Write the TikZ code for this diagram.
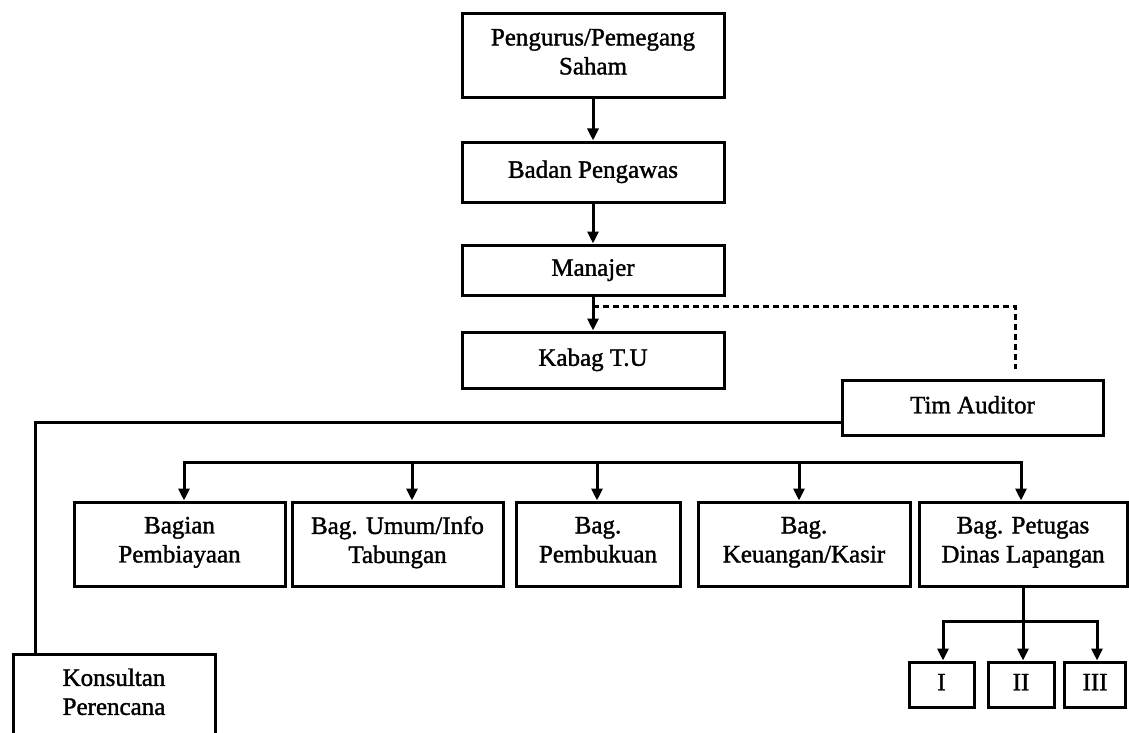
\documentclass[tikz,border=0pt]{standalone}
\usepackage{fontspec}
\setmainfont[FakeBold=1.4]{Liberation Serif}
\usetikzlibrary{arrows.meta}
\newcommand\orgtightls{\lineskiplimit=-100pt\relax}
\begin{document}
\begin{tikzpicture}[x=1pt,y=-1pt,
  box/.style={draw, line width=3pt, align=center, inner sep=0pt,
              font=\fontsize{25}{29}\selectfont,
              execute at begin node={\orgtightls\strut}, execute at end node={\strut}},
  conn/.style={line width=3pt},
  busline/.style={line width=3pt, line cap=rect},
  arr/.style={line width=3pt, -{Triangle[width=11pt,length=12pt]}},
  dotline/.style={line width=3pt, dash pattern=on 6pt off 4pt}]
\useasboundingbox[fill=white] (0,0) rectangle (1129,733);

% top chain
\node[box, minimum width=262pt, minimum height=84pt] (peng) at (593,56) {Pengurus/Pemegang\\Saham};
\node[box, minimum width=262pt, minimum height=60pt] (badan) at (593,172) {Badan Pengawas};
\node[box, minimum width=262pt, minimum height=50pt] (manajer) at (593,270) {Manajer};
\node[box, minimum width=262pt, minimum height=56pt] (kabag) at (593,360) {Kabag T.U};
\node[box, minimum width=261pt, minimum height=55pt] (tim) at (972.5,407.5) {Tim Auditor};

% row of departments
\node[box, minimum width=211pt, minimum height=84pt] (bp) at (179.5,544) {Bagian\\Pembiayaan};
\node[box, minimum width=211pt, minimum height=84pt] (bu) at (397.5,544) {Bag. Umum/Info\\Tabungan};
\node[box, minimum width=164pt, minimum height=84pt] (bk) at (598,544) {Bag.\\Pembukuan};
\node[box, minimum width=212pt, minimum height=84pt] (bkk) at (804,544) {Bag.\\Keuangan/Kasir};
\node[box, minimum width=208pt, minimum height=84pt] (bpd) at (1023,544) {Bag. Petugas\\Dinas Lapangan};

% consultant (runs off the bottom edge)
\node[box, anchor=north, minimum width=202pt, inner ysep=14pt] (kons) at (114,653)
  {Konsultan\\Perencana\rule[-24pt]{0pt}{0pt}};

% field officers
\node[box, minimum width=65pt, minimum height=45pt] (i) at (941.5,684.5) {I};
\node[box, minimum width=66pt, minimum height=45pt] (ii) at (1021,684.5) {II};
\node[box, minimum width=61pt, minimum height=45pt] (iii) at (1095,684.5) {III};

% vertical chain
\draw[arr] (peng.south) -- (badan.north);
\draw[arr] (badan.south) -- (manajer.north);
\draw[arr] (manajer.south) -- (kabag.north);

% dotted link to auditor
\coordinate (d0) at (593,306);
\coordinate (d2) at (1015,369);
\draw[dotline] (d0) -| (d2);

% auditor to consultant
\draw[conn] ([yshift=-14.5pt]tim.west) -| ([xshift=24pt]kons.north west);

% distribution bus
\coordinate (b1) at (184,462);
\coordinate (b2) at (412,462);
\coordinate (b3) at (597,462);
\coordinate (b4) at (799,462);
\coordinate (b5) at (1021,462);
\draw[busline] (b1) -- (b5);
\draw[arr] (b1) -- (b1 |- bp.north);
\draw[arr] (b2) -- (b2 |- bu.north);
\draw[arr] (b3) -- (b3 |- bk.north);
\draw[arr] (b4) -- (b4 |- bkk.north);
\draw[arr] (b5) -- (b5 |- bpd.north);

% sub bus
\coordinate (s1) at (943,621);
\coordinate (s3) at (1097,621);
\draw[busline] (s1) -- (s3);
\draw[arr] (bpd.south) -- (bpd.south |- ii.north);
\draw[arr] (s1) -- (s1 |- i.north);
\draw[arr] (s3) -- (s3 |- iii.north);
\end{tikzpicture}
\end{document}
